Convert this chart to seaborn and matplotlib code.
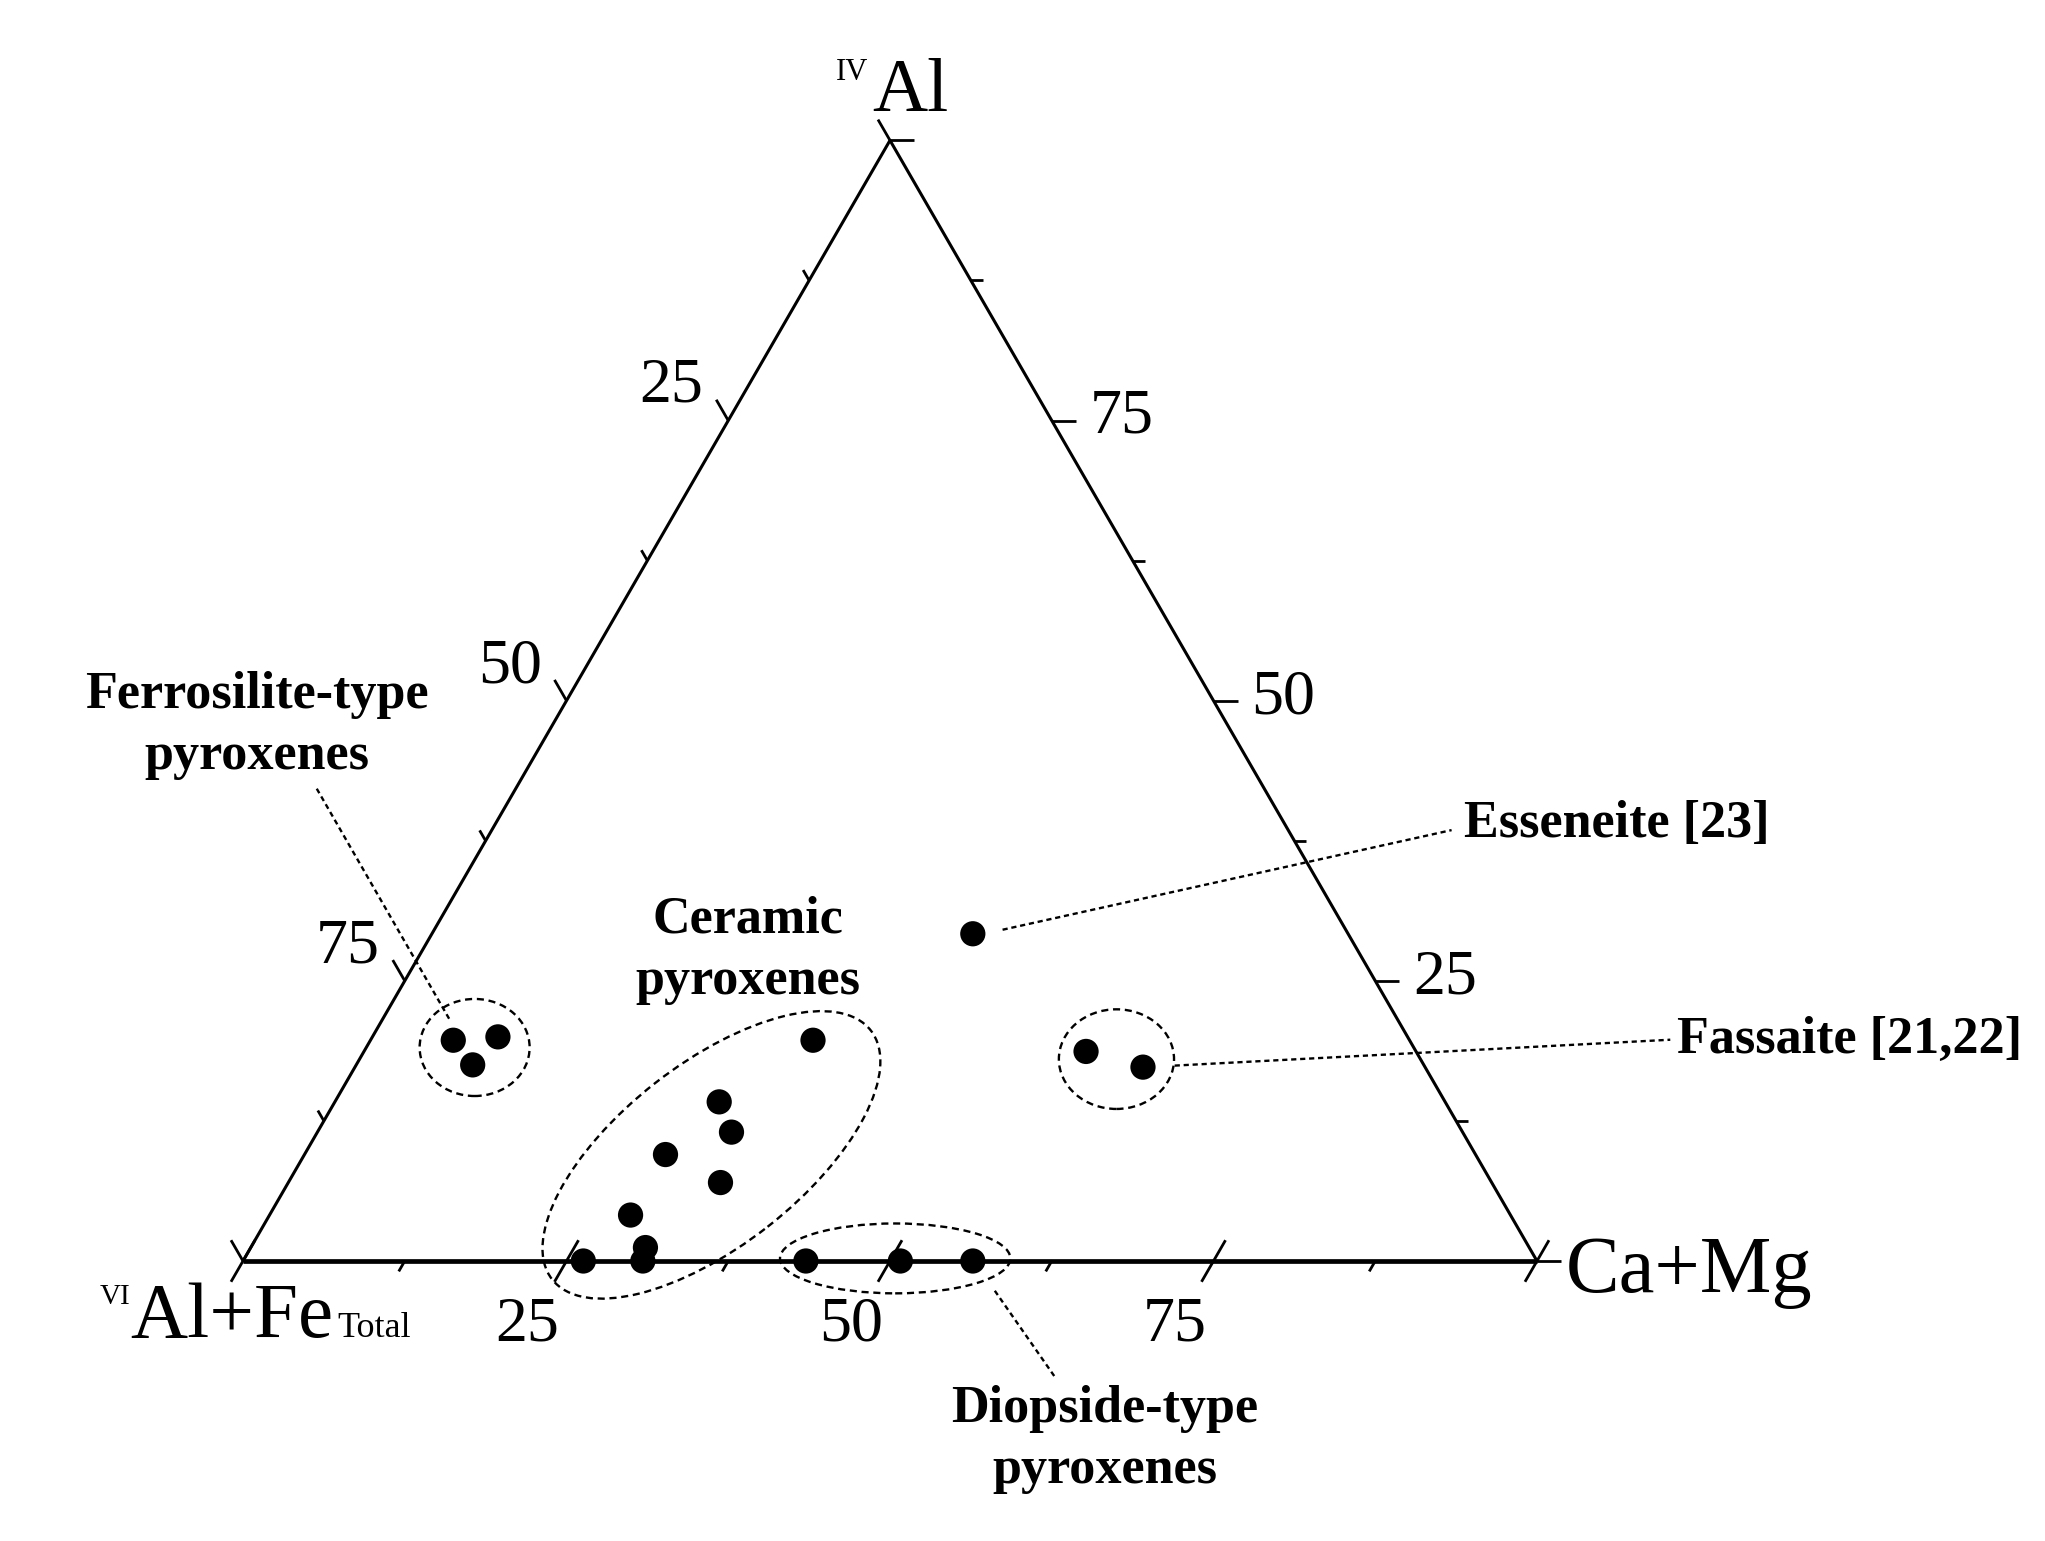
import numpy as np
import pandas as pd
import matplotlib
matplotlib.use("Agg")
import matplotlib.pyplot as plt
import seaborn as sns
from matplotlib.patches import Ellipse

# Ternary data in percent: IVAl (top apex) and Ca+Mg (right apex)
# VIAl+FeTotal = 100 - IVAl - Ca+Mg
ferro_al = [19.7, 20.0, 17.5]
ferro_camg = [6.4, 9.7, 9.0]
ceramic_al = [19.7, 14.2, 11.5, 9.5, 7.0, 4.1, 1.2, 0.0, 0.0]
ceramic_camg = [34.2, 29.7, 32.0, 27.9, 33.4, 27.9, 30.5, 30.9, 26.3]
diopside_al = [0.0, 0.0, 0.0]
diopside_camg = [43.5, 50.8, 56.4]
esseneite_al = [29.2]
esseneite_camg = [41.8]
fassaite_al = [18.7, 17.3]
fassaite_camg = [55.8, 60.9]

tick_values = [25, 50, 75]

H = np.sqrt(3) / 2


def tern(al, camg):
    al = np.asarray(al, dtype=float) / 100
    camg = np.asarray(camg, dtype=float) / 100
    return camg + al / 2, al * H


frames = []
for name, al, cm in [("Ferrosilite", ferro_al, ferro_camg),
                     ("Ceramic", ceramic_al, ceramic_camg),
                     ("Diopside", diopside_al, diopside_camg),
                     ("Esseneite", esseneite_al, esseneite_camg),
                     ("Fassaite", fassaite_al, fassaite_camg)]:
    x, y = tern(al, cm)
    frames.append(pd.DataFrame({"x": x, "y": y, "grupo": name}))
df = pd.DataFrame(pd.concat(frames, ignore_index=True))

sns.set_theme(style="white")
plt.rcParams["font.family"] = ["Liberation Serif", "DejaVu Serif"]
plt.rcParams["text.color"] = "black"

fig = plt.figure(figsize=(20.45, 15.41), dpi=100)
ax = fig.add_axes([0, 0, 1, 1])
side = 1294.0  # pixels per unit side
ax.set_xlim(-243 / side, (2045 - 243) / side)
ax.set_ylim(-280 / side, 1261 / side)
ax.axis("off")

# triangle
ax.plot([0, 0.5, 1], [0, H, 0], color="black", lw=2.2, solid_capstyle="butt")
ax.plot([0, 1], [0, 0], color="black", lw=3.4, solid_capstyle="butt")

L = 24 / side
Lm = 12 / side
tk = dict(color="black", lw=2.0, solid_capstyle="butt")
c60, s60 = 0.5, H

# bottom axis (Ca+Mg): ticks parallel to left edge
for v in np.arange(0, 101, 12.5):
    x0 = v / 100
    if v % 25 == 0:
        ax.plot([x0 - L * c60, x0 + L * c60], [-L * s60, L * s60], **tk)
    else:
        ax.plot([x0 - Lm * c60, x0], [-Lm * s60, 0], **tk)
# left axis (VIAl+Fe): ticks parallel to right edge, outward
for v in np.arange(0, 101, 12.5):
    f = v / 100
    x0, y0 = 0.5 - 0.5 * f, H * (1 - f)
    ln = L if v % 25 == 0 else Lm
    ax.plot([x0, x0 - ln * c60], [y0, y0 + ln * s60], **tk)
# right axis (IVAl): horizontal ticks outward
for v in np.arange(0, 101, 12.5):
    f = v / 100
    x0, y0 = 1 - 0.5 * f, H * f
    ln = L if v % 25 == 0 else Lm
    ax.plot([x0, x0 + ln], [y0, y0], **tk)

# tick labels
fs_tick = 46
for v in tick_values:
    f = v / 100
    ax.text(f - 0.030, -0.050, str(v), ha="center", va="center", fontsize=fs_tick)
    ax.text(0.5 - 0.5 * f - 0.044, H * (1 - f) + 0.026, str(v),
            ha="center", va="center", fontsize=fs_tick)
    ax.text(1 - 0.5 * f + 0.054, H * f + 0.002, str(v),
            ha="center", va="center", fontsize=fs_tick)

# apex labels
ax.text(0.486, 0.889, "Al", ha="left", va="baseline", fontsize=55)
ax.text(0.483, 0.913, "IV", ha="right", va="baseline", fontsize=22)
ax.text(-0.087, -0.059, "Al+Fe", ha="left", va="baseline", fontsize=57)
ax.text(0.073, -0.059, "Total", ha="left", va="baseline", fontsize=26)
ax.text(-0.087, -0.033, "VI", ha="right", va="baseline", fontsize=21)
ax.text(1.022, -0.024, "Ca+Mg", ha="left", va="baseline", fontsize=58)

# points
sns.scatterplot(data=df, x="x", y="y", ax=ax, color="black", s=330,
                edgecolor="none", legend=False, zorder=5)

# group ellipses
dash = (0, (3, 2))
for cx, cy, w, h, ang in [(0.179, 0.165, 0.085, 0.075, 0),
                          (0.362, 0.082, 0.3125, 0.141, 38),
                          (0.504, 0.002, 0.178, 0.054, 0),
                          (0.675, 0.156, 0.089, 0.077, 0)]:
    ax.add_patch(Ellipse((cx, cy), w, h, angle=ang, fill=False,
                         ec="black", lw=1.7, ls=dash, zorder=4))

# leader lines
lead = (0, (2.2, 1.6))
for (x1, y1), (x2, y2) in [((0.057, 0.365), (0.160, 0.186)),
                           ((0.587, 0.256), (0.934, 0.333)),
                           ((0.720, 0.151), (1.103, 0.171)),
                           ((0.581, -0.023), (0.627, -0.089))]:
    ax.plot([x1, x2], [y1, y2], color="black", lw=1.7, ls=lead)

fs_lab = 37.5
bold = dict(fontsize=fs_lab, fontweight="bold", linespacing=1.36)
ax.text(0.011, 0.414, "Ferrosilite-type\npyroxenes", ha="center", va="center", **bold)
ax.text(0.390, 0.240, "Ceramic\npyroxenes", ha="center", va="center", **bold)
ax.text(0.9435, 0.338, "Esseneite [23]", ha="left", va="center", **bold)
ax.text(1.108, 0.171, "Fassaite [21,22]", ha="left", va="center", **bold)
ax.text(0.666, -0.138, "Diopside-type\npyroxenes", ha="center", va="center", **bold)

fig.savefig("out.png", dpi=100, facecolor="white")
